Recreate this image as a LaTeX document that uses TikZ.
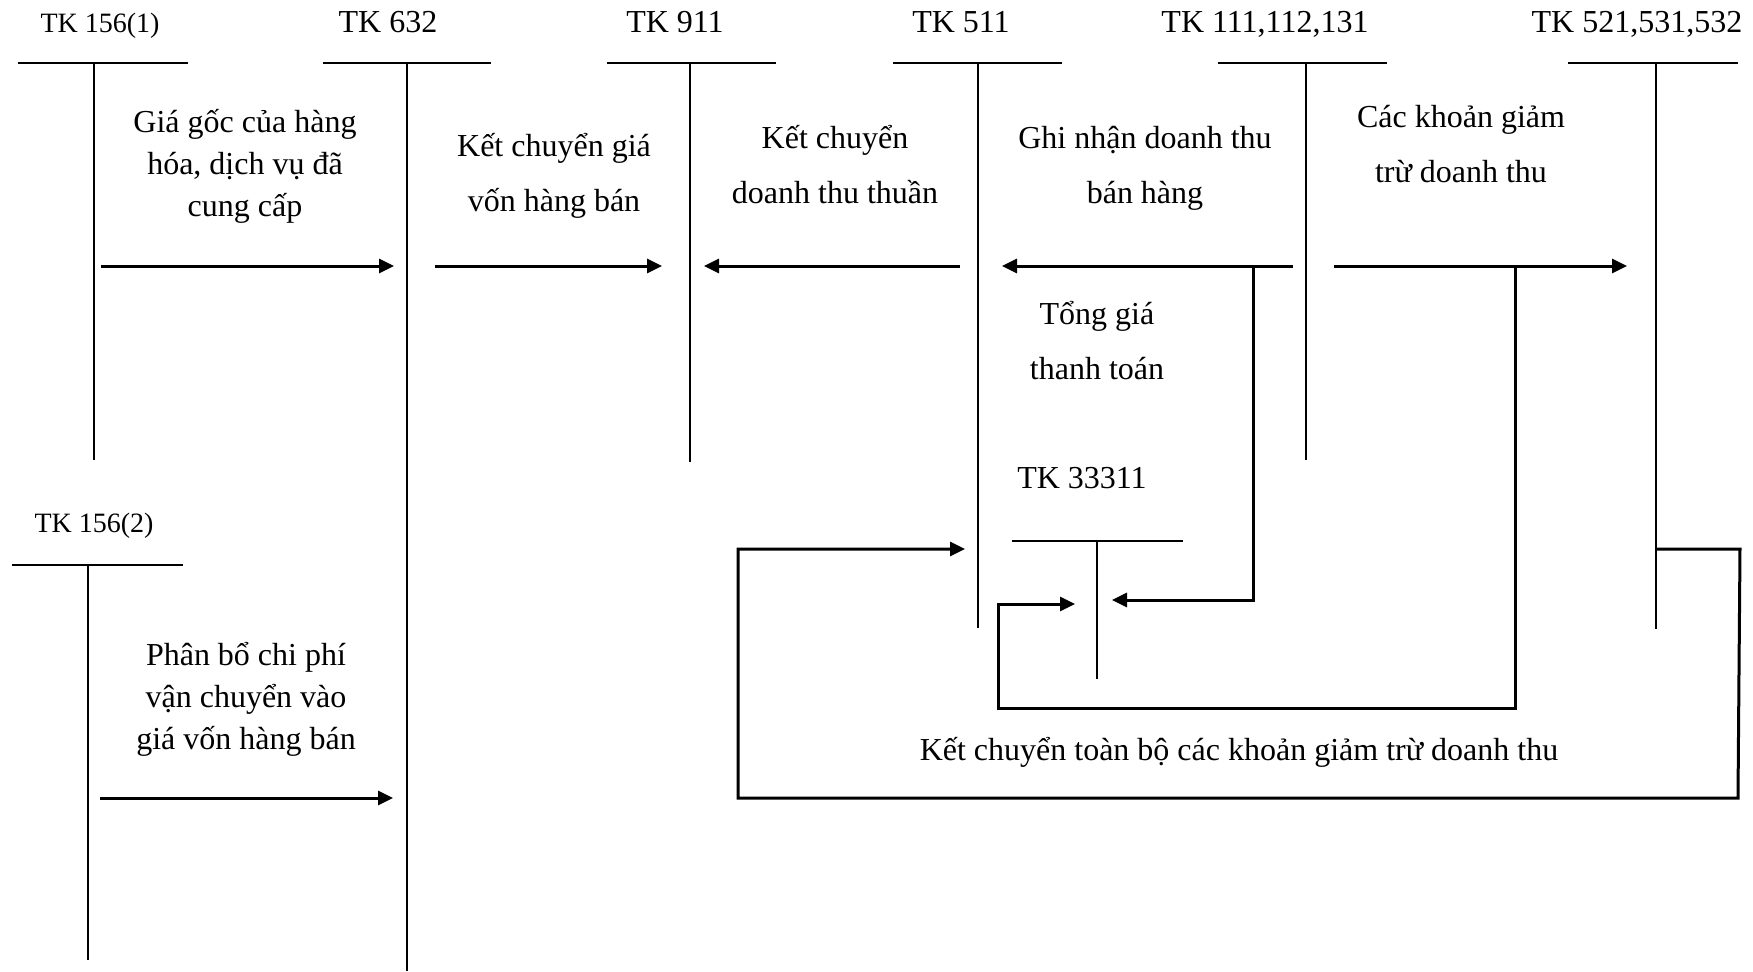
\documentclass[tikz,border=0pt]{standalone}
\usepackage{fontspec}
\setmainfont{Liberation Serif}
\usetikzlibrary{arrows.meta}
\begin{document}
\begin{tikzpicture}[x=0.5pt,y=-0.5pt,
  acct/.style={line width=1pt},
  link/.style={line width=1.5pt},
  flow/.style={line width=1.5pt,-{Triangle[length=7.5pt,width=7pt]}},
  lbl/.style={font=\fontsize{16}{19}\selectfont,anchor=base,inner sep=0pt},
  smalllbl/.style={font=\fontsize{14}{17}\selectfont,anchor=base,inner sep=0pt},
  % multi-line notes are placed by the baseline of their last line
  note/.style={font=\fontsize{16}{21}\selectfont,align=center,anchor=base,inner sep=0pt},
  widenote/.style={font=\fontsize{16}{27.5}\selectfont,align=center,anchor=base,inner sep=0pt},
]
\useasboundingbox (0,0) rectangle (1753,971);

% account titles
\node[smalllbl] (t1561) at (100,32) {TK 156(1)};
\node[lbl] (t632) at (388,32) {TK 632};
\node[lbl] (t911) at (675,32) {TK 911};
\node[lbl] (t511) at (961,32) {TK 511};
\node[lbl] (t111) at (1265,32) {TK 111,112,131};
\node[lbl] (t521) at (1637,32) {TK 521,531,532};
\node[smalllbl] (t1562) at (94,532) {TK 156(2)};
\node[lbl] (t33311) at (1082,488) {TK 33311};

% T-accounts: top bar and stem
\coordinate (a1l) at (18,63);   \coordinate (a1r) at (188,63);
\coordinate (a1t) at (94,63);   \coordinate (a1b) at (94,460);
\coordinate (a2l) at (323,63);  \coordinate (a2r) at (491,63);
\coordinate (a2t) at (407,63);  \coordinate (a2b) at (407,971);
\coordinate (a3l) at (607,63);  \coordinate (a3r) at (776,63);
\coordinate (a3t) at (690,63);  \coordinate (a3b) at (690,462);
\coordinate (a4l) at (893,63);  \coordinate (a4r) at (1062,63);
\coordinate (a4t) at (978,63);  \coordinate (a4b) at (978,628);
\coordinate (a5l) at (1218,63); \coordinate (a5r) at (1387,63);
\coordinate (a5t) at (1306,63); \coordinate (a5b) at (1306,460);
\coordinate (a6l) at (1568,63); \coordinate (a6r) at (1738,63);
\coordinate (a6t) at (1656,63); \coordinate (a6b) at (1656,629);
\coordinate (a7l) at (12,565);  \coordinate (a7r) at (183,565);
\coordinate (a7t) at (88,565);  \coordinate (a7b) at (88,960);
\coordinate (a8l) at (1012,541); \coordinate (a8r) at (1183,541);
\coordinate (a8t) at (1097,541); \coordinate (a8b) at (1097,679);

\foreach \a in {a1,a2,a3,a4,a5,a6,a7,a8}{
  \draw[acct] (\a l) -- (\a r);
  \draw[acct] (\a t) -- (\a b);
}

% entry descriptions
\node[note] (n1) at (245,216) {Giá gốc của hàng\\hóa, dịch vụ đã\\cung cấp};
\node[widenote] (n2) at (554,211) {Kết chuyển giá\\vốn hàng bán};
\node[widenote] (n3) at (835,203) {Kết chuyển\\doanh thu thuần};
\node[widenote] (n4) at (1145,203) {Ghi nhận doanh thu\\bán hàng};
\node[widenote] (n5) at (1461,182) {Các khoản giảm\\trừ doanh thu};
\node[widenote] (n6) at (1097,379) {Tổng giá\\thanh toán};
\node[note] (n7) at (246,749) {Phân bổ chi phí\\vận chuyển vào\\giá vốn hàng bán};
\node[lbl] (n8) at (1239,760) {Kết chuyển toàn bộ các khoản giảm trừ doanh thu};

% flow arrows
\coordinate (f1s) at (101,266);  \coordinate (f1e) at (394,266);
\coordinate (f2s) at (435,266);  \coordinate (f2e) at (662,266);
\coordinate (f3s) at (960,266);  \coordinate (f3e) at (704,266);
\coordinate (f4s) at (1293,266); \coordinate (f4e) at (1002,266);
\coordinate (f5s) at (1334,266); \coordinate (f5e) at (1627,266);
\coordinate (f6s) at (100,798);  \coordinate (f6e) at (393,798);
\draw[flow] (f1s) -- (f1e);
\draw[flow] (f2s) -- (f2e);
\draw[flow] (f3s) -- (f3e);
\draw[flow] (f4s) -- (f4e);
\draw[flow] (f5s) -- (f5e);
\draw[flow] (f6s) -- (f6e);

% VAT branch from the cash line into TK 33311
\coordinate (b1s) at (1253,266); \coordinate (b1c) at (1253,600);
\coordinate (b1e) at (1112,600);
\draw[flow] (b1s) -- (b1c) -- (b1e);

% deductions branch into TK 33311
\coordinate (b2s) at (1515,266); \coordinate (b2c1) at (1515,708);
\coordinate (b2c2) at (998,708); \coordinate (b2c3) at (998,604);
\coordinate (b2e) at (1075,604);
\draw[flow] (b2s) -- (b2c1) -- (b2c2) -- (b2c3) -- (b2e);

% closing of all deductions into TK 511
\coordinate (b3s) at (1656,549); \coordinate (b3c1) at (1740,549);
\coordinate (b3c2) at (1738,798); \coordinate (b3c3) at (738,798);
\coordinate (b3c4) at (738,549);  \coordinate (b3e) at (965,549);
\draw[flow] (b3s) -- (b3c1) -- (b3c2) -- (b3c3) -- (b3c4) -- (b3e);
\end{tikzpicture}
\end{document}
